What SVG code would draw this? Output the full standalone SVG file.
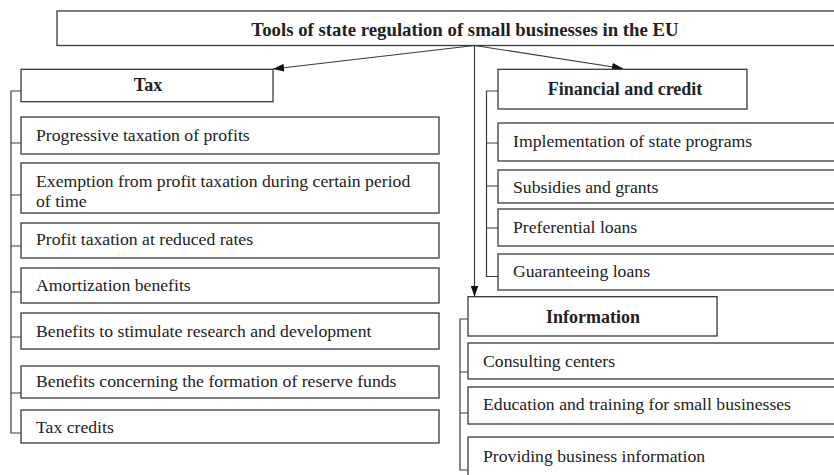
<svg xmlns="http://www.w3.org/2000/svg" width="834" height="475" viewBox="0 0 834 475">
<defs>
<style>
.b{fill:#fff;stroke:#3a3a3a;stroke-width:1.3}
.l{fill:none;stroke:#3a3a3a;stroke-width:1.2}
.t{font-family:"Liberation Serif","Times New Roman",serif;font-size:17.7px;fill:#222}
.h{font-family:"Liberation Serif","Times New Roman",serif;font-size:18px;font-weight:bold;fill:#222;text-anchor:middle}
</style>
<marker id="ah" viewBox="0 0 11 8" refX="11" refY="4" markerWidth="11" markerHeight="8" markerUnits="userSpaceOnUse" orient="auto">
<path d="M0,0 L11,4 L0,8 Z" fill="#111"/>
</marker>
</defs>
<rect width="834" height="475" fill="#fff"/>
<g id="connectors">
<line class="l" x1="474.5" y1="45.5" x2="273" y2="69" marker-end="url(#ah)"/>
<line class="l" x1="474.5" y1="45.5" x2="623" y2="68.5" marker-end="url(#ah)"/>
<line class="l" x1="474.5" y1="45.5" x2="474.5" y2="296.5" marker-end="url(#ah)"/>
<path class="l" d="M21,91 H11 V433 H21 M11,143 H21 M11,195 H21 M11,246 H21 M11,292 H21 M11,337 H21 M11,393 H21"/>
<path class="l" d="M498,91 H486.5 V276.5 H498 M486.5,143 H498 M486.5,186 H498 M486.5,228 H498"/>
<path class="l" d="M468,319 H460 V470 H468 M460,372 H468 M460,413 H468"/>
</g>
<g id="root"><rect class="b" x="57" y="11" width="790" height="34.5"/><text class="h" x="465" y="35.5" style="font-size:18.8px">Tools of state regulation of small businesses in the EU</text></g>
<g id="tax"><rect class="b" x="21" y="69.3" width="252" height="32.4"/><text class="h" x="148" y="90.7">Tax</text></g>
<g id="tax1"><rect class="b" x="21" y="117" width="418" height="37"/><text class="t" x="36" y="141">Progressive taxation of profits</text></g>
<g id="tax2"><rect class="b" x="21" y="163" width="418" height="50"/><text class="t" x="36" y="187">Exemption from profit taxation during certain period</text><text class="t" x="36" y="207">of time</text></g>
<g id="tax3"><rect class="b" x="21" y="223" width="418" height="35"/><text class="t" x="36" y="245">Profit taxation at reduced rates</text></g>
<g id="tax4"><rect class="b" x="21" y="268" width="418" height="35"/><text class="t" x="36" y="291">Amortization benefits</text></g>
<g id="tax5"><rect class="b" x="21" y="313" width="418" height="36"/><text class="t" x="36" y="337">Benefits to stimulate research and development</text></g>
<g id="tax6"><rect class="b" x="21" y="366" width="418" height="32"/><text class="t" x="36" y="387">Benefits concerning the formation of reserve funds</text></g>
<g id="tax7"><rect class="b" x="21" y="410" width="418" height="33"/><text class="t" x="36" y="433">Tax credits</text></g>
<g id="fin"><rect class="b" x="498" y="69.3" width="249" height="39.7"/><text class="h" x="625" y="95">Financial and credit</text></g>
<g id="fin1"><rect class="b" x="498" y="123" width="350" height="38"/><text class="t" x="513" y="147">Implementation of state programs</text></g>
<g id="fin2"><rect class="b" x="498" y="170" width="350" height="33"/><text class="t" x="513" y="193">Subsidies and grants</text></g>
<g id="fin3"><rect class="b" x="498" y="209" width="350" height="37"/><text class="t" x="513" y="233">Preferential loans</text></g>
<g id="fin4"><rect class="b" x="498" y="254" width="350" height="36"/><text class="t" x="513" y="277">Guaranteeing loans</text></g>
<g id="info"><rect class="b" x="468" y="296.7" width="249" height="39.3"/><text class="h" x="593" y="323">Information</text></g>
<g id="info1"><rect class="b" x="468" y="343" width="380" height="36"/><text class="t" x="483" y="367">Consulting centers</text></g>
<g id="info2"><rect class="b" x="468" y="387" width="380" height="37"/><text class="t" x="483" y="410">Education and training for small businesses</text></g>
<g id="info3"><rect class="b" x="468" y="437" width="380" height="50"/><text class="t" x="483" y="462">Providing business information</text></g>
</svg>
